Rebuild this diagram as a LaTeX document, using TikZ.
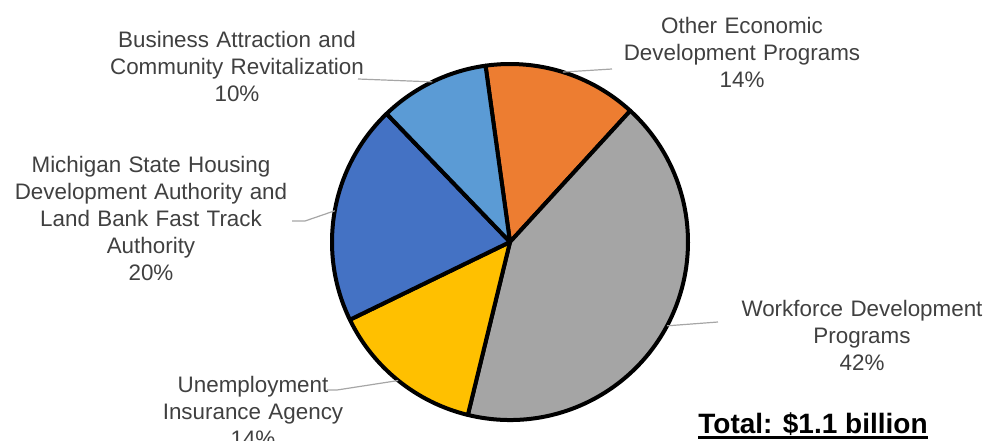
\documentclass[tikz,border=0pt]{standalone}
\usepackage{fontspec}
\setmainfont{Liberation Sans}
\usetikzlibrary{positioning}
\definecolor{ecoOrange}{HTML}{ED7D31}
\definecolor{wfdGray}{HTML}{A5A5A5}
\definecolor{uiaGold}{HTML}{FFC000}
\definecolor{mshBlue}{HTML}{4472C4}
\definecolor{bacBlue}{HTML}{5B9BD5}
\definecolor{lblGray}{HTML}{404040}
\definecolor{leadGray}{HTML}{A6A6A6}
\newcommand\lblfont{\fontsize{16.8pt}{20.25pt}\selectfont\spaceskip=5.5pt plus 1pt\relax}
\tikzset{slice/.style={draw=black,line width=3pt,line join=round},
         lbl/.style={align=center,text=lblGray,inner sep=0pt,font=\lblfont},
         leader/.style={draw=leadGray,line width=0.9pt},
         total/.style={inner sep=0pt,font=\fontsize{21pt}{24pt}\selectfont\bfseries},
        }

\begin{document}
\begin{tikzpicture}[x=0.75pt,y=0.75pt]
        \useasboundingbox (0,0) rectangle (987,440);
        \coordinate (c) at (510,198);
        % slices, clockwise from the top
        \filldraw[slice,fill=ecoOrange](c)--++(47.5:133.5pt)arc[start angle=47.5,end angle=97.9,radius=133.5pt]--cycle;
        \filldraw[slice,fill=wfdGray](c)--++(-103.7:133.5pt)arc[start angle=-103.7,end angle=47.5,radius=133.5pt]--cycle;
        \filldraw[slice,fill=uiaGold](c)--++(205.9:133.5pt)arc[start angle=205.9,end angle=256.3,radius=133.5pt]--cycle;
        \filldraw[slice,fill=mshBlue](c)--++(133.9:133.5pt)arc[start angle=133.9,end angle=205.9,radius=133.5pt]--cycle;
        \filldraw[slice,fill=bacBlue](c)--++(97.9:133.5pt)arc[start angle=97.9,end angle=133.9,radius=133.5pt]--cycle;
        % labels
        \node[lbl](bac)at(237,374){Business Attraction and\\Community Revitalization\\10\%};
        \node[lbl](msh)at(151,221.5){Michigan State Housing\\Development Authority and\\Land Bank Fast Track\\Authority\\20\%};
        \node[lbl](oth)at(742,388){Other Economic\\Development Programs\\14\%};
        \node[lbl](wfd)at(862,105){Workforce Development\\Programs\\42\%};
        \node[lbl](uia)at(253,29){Unemployment\\Insurance Agency\\14\%};
        \node[total,anchor=base](tot)at(813,7){Total: \$1.1 billion};
        \draw[line width=2.2pt]([yshift=-3.6pt]tot.base west)--([yshift=-3.6pt]tot.base east);
        % leader lines
        \path(c)++(115.9:133.5pt)coordinate(bacE);
        \path(c)++(169.9:133.5pt)coordinate(mshE);
        \path(c)++(72.7:133.5pt)coordinate(othE);
        \path(c)++(-28.1:133.5pt)coordinate(wfdE);
        \path(c)++(-128.9:133.5pt)coordinate(uiaE);
        \coordinate(bacS)at(358,361);
        \coordinate(mshS)at(292,219);
        \coordinate(othS)at(612,371);
        \coordinate(wfdS)at(718,118);
        \coordinate(uiaS)at(327,50);
        \draw[leader](bacS)--(bacE);
        \draw[leader](mshS)--++(13,0)--(mshE);
        \draw[leader](othS)--(othE);
        \draw[leader](wfdS)--(wfdE);
        \draw[leader](uiaS)--++(10,0)--(uiaE);
    \end{tikzpicture}
\end{document}
